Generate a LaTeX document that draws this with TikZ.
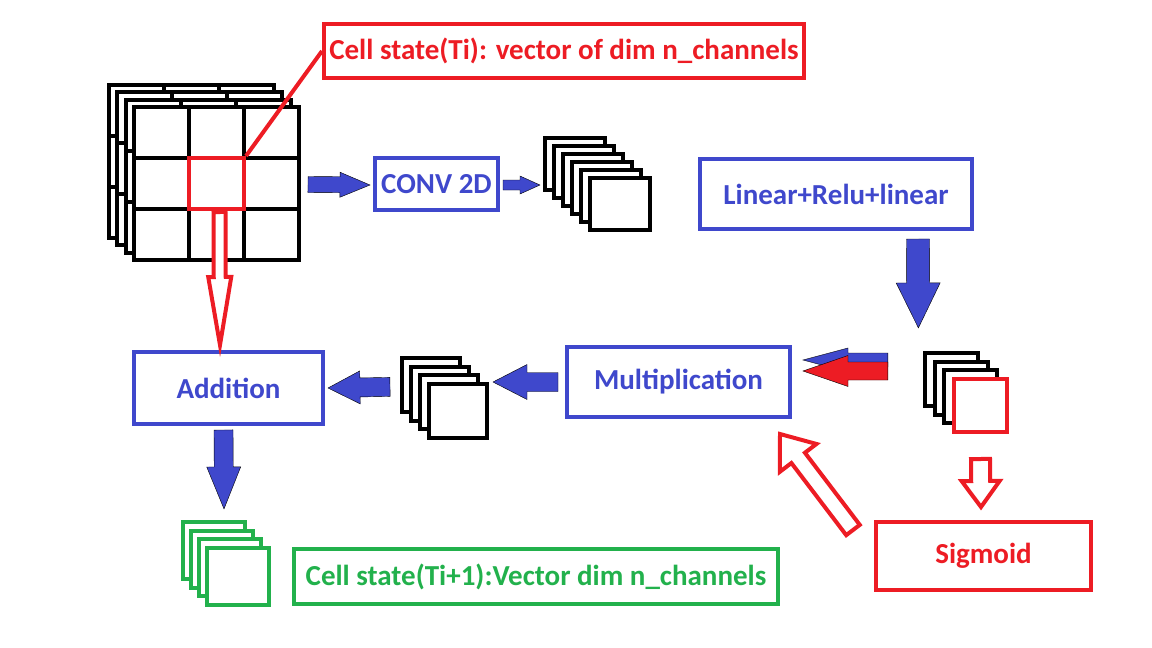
\documentclass[tikz,border=0pt]{standalone}
\usepackage{fontspec}
\setmainfont{Carlito}
\usetikzlibrary{calc}
\definecolor{pblue}{HTML}{3F48CC}
\definecolor{pred}{HTML}{ED1C24}
\definecolor{pgreen}{HTML}{22B14C}
\newcommand{\fatarrow}[6]{%
  \path ($(#3)!#6!(#2)$) coordinate (fa-base);
  \draw[#1] ($(#2)!#4!90:(#3)$) -- ($(fa-base)!#4!-90:(#2)$) -- ($(fa-base)!#5!-90:(#2)$) -- (#3)
    -- ($(fa-base)!#5!90:(#2)$) -- ($(fa-base)!#4!90:(#2)$) -- ($(#2)!#4!-90:(#3)$) -- cycle;}

\begin{document}
\begin{tikzpicture}[x=1pt,y=-1pt,
  box/.style={draw=#1,text=#1,line width=4pt,fill=white,inner sep=0pt,font=\fontsize{29}{33}\selectfont\bfseries},
  sq/.style={draw=#1,line width=4pt,fill=white,inner sep=0pt},
  cell/.style={sq=black,minimum width=55pt,minimum height=51pt},
  fatblue/.style={fill=pblue},
  fatred/.style={fill=pred},
  hollowred/.style={draw=pred,line width=4pt,fill=white}]
  \useasboundingbox (0,0) rectangle (1152,648);
  \foreach \k in {0,...,3} \foreach \r in {0,1,2} \foreach \c in {0,1,2}
    \node[cell] (g\k-\r-\c) at ({161.5+55*\c-8.3*(3-\k)},{132.5+51*\r-7.3*(3-\k)}) {};
  \node[sq=pred,minimum width=55pt,minimum height=51pt] (hl) at (g3-1-1) {};
  \foreach \k in {0,...,5}
    \node[sq=black,minimum width=60pt,minimum height=52pt] (c\k) at ({620-9*(5-\k)},{204-8*(5-\k)}) {};
  \foreach \k in {0,...,3}
    \node[sq=black,minimum width=58pt,minimum height=54pt] (m\k) at ({458-9*(3-\k)},{411-8.7*(3-\k)}) {};
  \foreach \k in {0,...,2}
    \node[sq=black,minimum width=53pt,minimum height=53pt] (s\k) at ({980.5-9.7*(3-\k)},{405.5-8.7*(3-\k)}) {};
  \node[sq=pred,minimum width=53pt,minimum height=53pt] (s3) at (980.5,405.5) {};
  \foreach \k in {0,...,3}
    \node[sq=pgreen,minimum width=62pt,minimum height=57pt] (e\k) at ({238-8*(3-\k)},{576.5-8.7*(3-\k)}) {};
  \node[box=pred,minimum width=480pt,minimum height=54pt] (ctop) at (564,51) {Cell state(Ti): vector of dim n\_channels};
  \draw[pred,line width=4pt] (hl.north east) -- (ctop.west);
  \node[box=pblue,minimum width=123pt,minimum height=52pt] (conv) at (436.5,184) {CONV 2D};
  \node[box=pblue,minimum width=272pt,minimum height=70pt] (lin) at (836,194) {Linear+Relu+linear};
  \node[box=pblue,minimum width=223pt,minimum height=70pt] (mult) at (678.5,382) {Multiplication};
  \node[box=pblue,minimum width=189pt,minimum height=72pt] (add) at (228.5,388) {Addition};
  \node[box=pred,minimum width=215pt,minimum height=68pt] (sig) at (983.5,556) {Sigmoid};
  \node[box=pgreen,minimum width=484pt,minimum height=55pt] (cnext) at (536,576.5) {Cell state(Ti+1):Vector dim n\_channels};
  \coordinate (a1t) at ($(g3-1-2.east)+(7,1)$);  \coordinate (a1h) at ($(conv.west)+(-3,1)$);
  \coordinate (a2t) at ($(conv.east)+(3,1)$);    \coordinate (a2h) at ($(c0.west)+(-3,21)$);
  \coordinate (a3t) at ($(lin.south east)+(-56,8)$); \coordinate (a3h) at ($(s0.north)+(-33,-23)$);
  \coordinate (a4t) at ($(s0.west)+(-35,-19.4)$); \coordinate (a4h) at ($(mult.east)+(11,-22)$);
  \coordinate (a5t) at ($(s0.west)+(-35,-8.4)$); \coordinate (a5h) at ($(mult.east)+(11,-11)$);
  \coordinate (a6t) at ($(mult.west)+(-7,0)$);   \coordinate (a6h) at ($(m3.east)+(4,-29)$);
  \coordinate (a7t) at ($(m0.west)+(-10,2)$);    \coordinate (a7h) at ($(add.east)+(3,0)$);
  \coordinate (a8t) at ($(add.south)+(-5,4)$);   \coordinate (a8h) at ($(e0.north)+(10,-11)$);
  \coordinate (h1t) at ($(hl.south)+(3,1)$);     \coordinate (h1h) at ($(add.north)+(-8.5,-5)$);
  \coordinate (h2t) at ($(s3.south)+(0,25)$);    \coordinate (h2h) at ($(sig.north)+(-2.5,-13)$);
  \coordinate (h3t) at ($(sig.west)+(-21,-26)$); \coordinate (h3h) at ($(mult.south east)+(-12,15)$);
  \fatarrow{fatblue}{a1t}{a1h}{8pt}{12.5pt}{30pt}
  \fatarrow{fatblue}{a2t}{a2h}{5pt}{9pt}{20pt}
  \fatarrow{fatblue}{a3t}{a3h}{11.5pt}{22pt}{45pt}
  \fatarrow{fatblue}{a4t}{a4h}{7pt}{12pt}{45pt}
  \fatarrow{fatred}{a5t}{a5h}{9pt}{15.5pt}{45pt}
  \fatarrow{fatblue}{a6t}{a6h}{9.5pt}{17.5pt}{34pt}
  \fatarrow{fatblue}{a7t}{a7h}{9.5pt}{16.5pt}{32pt}
  \fatarrow{fatblue}{a8t}{a8h}{9.5pt}{17pt}{42pt}
  \fatarrow{hollowred}{h1t}{h1h}{6pt}{11.5pt}{68pt}
  \fatarrow{hollowred}{h2t}{h2h}{9.5pt}{19pt}{26pt}
  \fatarrow{hollowred}{h3t}{h3h}{8.5pt}{23pt}{30pt}
\end{tikzpicture}
\end{document}
